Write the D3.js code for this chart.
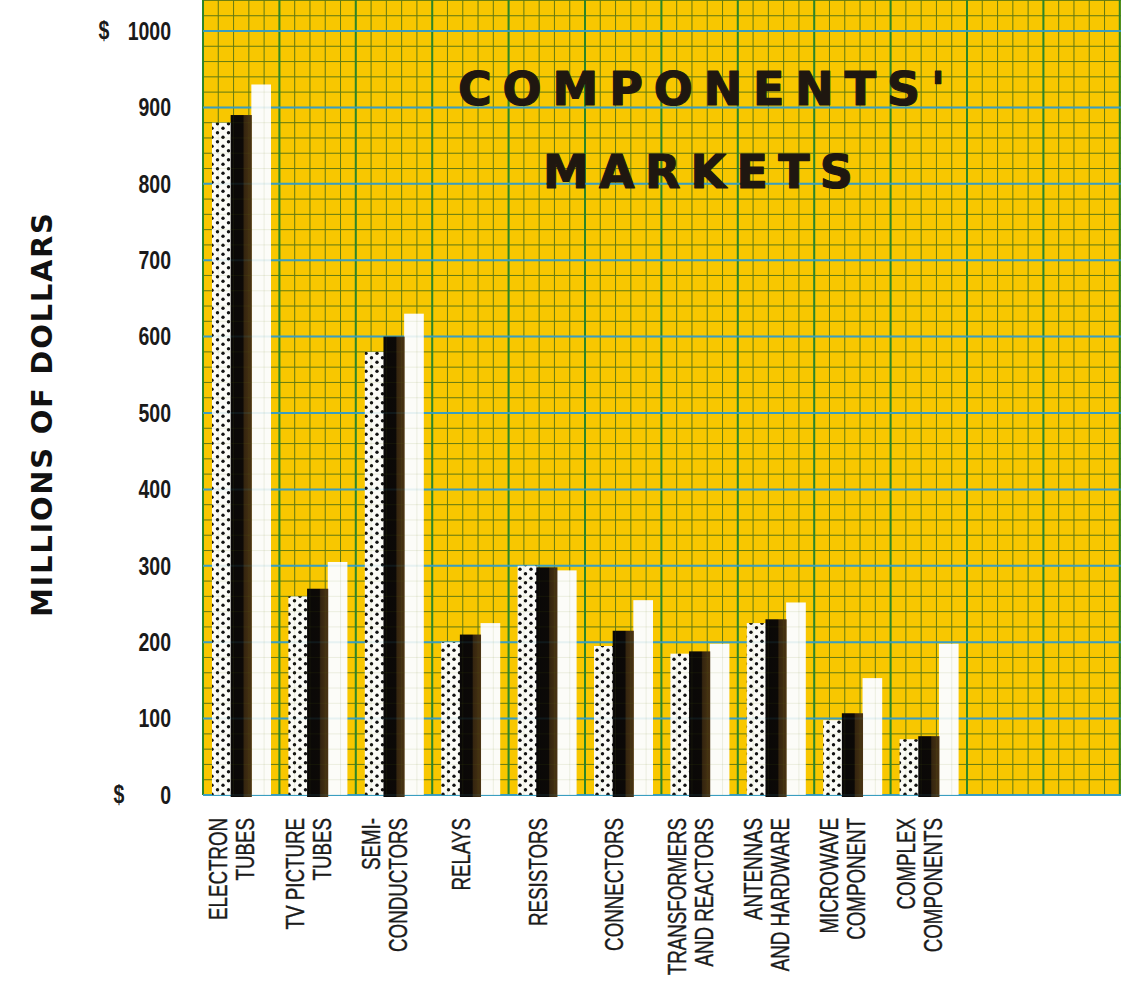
<!DOCTYPE html>
<html>
<head>
<meta charset="utf-8">
<script src="https://cdn.jsdelivr.net/npm/d3@7/dist/d3.min.js"></script>
<style>
  html, body { margin: 0; padding: 0; background: #ffffff; }
  svg { display: block; }
</style>
</head>
<body>
<script>
// ---- data ----
const categories = [
  ["ELECTRON", "TUBES"],
  ["TV PICTURE", "TUBES"],
  ["SEMI-", "CONDUCTORS"],
  ["RELAYS"],
  ["RESISTORS"],
  ["CONNECTORS"],
  ["TRANSFORMERS", "AND REACTORS"],
  ["ANTENNAS", "AND HARDWARE"],
  ["MICROWAVE", "COMPONENT"],
  ["COMPLEX", "COMPONENTS"]
];
const seriesNames = ["dotted", "black", "white"];
const dottedValues = [880, 260, 580, 200, 300, 195, 185, 225, 98, 73];
const blackValues  = [890, 270, 600, 210, 298, 215, 188, 230, 107, 77];
const whiteValues  = [930, 305, 630, 225, 294, 255, 198, 252, 153, 198];
const yTicks = [0, 100, 200, 300, 400, 500, 600, 700, 800, 900, 1000];
const dollarTicks = [0, 1000];
const titleLines = ["COMPONENTS'", "MARKETS"];
const yLabel = "MILLIONS OF DOLLARS";

// ---- layout ----
const W = 1121, H = 990;
const plotLeft = 203, plotRight = 1121, plotTop = 0;
const cellW = 76.4;
const narrowFont = "'Liberation Sans', Arial, sans-serif";

const svg = d3.select("body").append("svg").attr("width", W).attr("height", H);

const y = d3.scaleLinear().domain([0, 1000]).range([795, 31]);
const x = d3.scaleBand().domain(d3.range(categories.length))
  .range([plotLeft, plotLeft + cellW * categories.length]).padding(0);
const xs = d3.scaleBand().domain(seriesNames).range([9, 68]).padding(0);
const gx = d3.scaleLinear().domain([0, 1]).range([plotLeft, plotLeft + cellW]);

// defs
const defs = svg.append("defs");
const pat = defs.append("pattern").attr("id", "dots").attr("patternUnits", "userSpaceOnUse")
  .attr("width", 11).attr("height", 9);
pat.append("rect").attr("width", 11).attr("height", 9).attr("fill", "#fbfbf6");
pat.append("circle").attr("cx", 3).attr("cy", 2.2).attr("r", 1.7).attr("fill", "#111");
pat.append("circle").attr("cx", 8.5).attr("cy", 6.7).attr("r", 1.7).attr("fill", "#111");
const grad = defs.append("linearGradient").attr("id", "blk").attr("x1", 0).attr("x2", 1).attr("y1", 0).attr("y2", 0);
[[0, "#0a0807"], [0.58, "#0c0907"], [0.64, "#35250f"], [1, "#4a3414"]].forEach(s =>
  grad.append("stop").attr("offset", s[0]).attr("stop-color", s[1]));

// background
const yTopVal = y.invert(plotTop);
svg.append("rect").attr("x", plotLeft).attr("y", plotTop)
  .attr("width", plotRight - plotLeft).attr("height", y(0) - plotTop)
  .attr("fill", "#f8c700");

function drawGrid(g, op) {
  const hv = d3.range(0, yTopVal, 20);
  g.selectAll(".hmin").data(hv.filter(v => v % 100 !== 0)).join("line")
    .attr("x1", plotLeft).attr("x2", plotRight).attr("y1", d => y(d)).attr("y2", d => y(d))
    .attr("stroke", "#667c12").attr("stroke-width", 1).attr("opacity", op);
  const nCells = (plotRight - plotLeft) / cellW;
  const vv = d3.range(0, nCells + 0.01, 0.2);
  g.selectAll(".vmin").data(vv.filter((v, i) => i % 5 !== 0)).join("line")
    .attr("x1", d => gx(d)).attr("x2", d => gx(d)).attr("y1", plotTop).attr("y2", y(0))
    .attr("stroke", "#667c12").attr("stroke-width", 1).attr("opacity", op);
  g.selectAll(".vmaj").data(d3.range(0, Math.floor(nCells) + 1)).join("line")
    .attr("x1", d => gx(d)).attr("x2", d => gx(d)).attr("y1", plotTop).attr("y2", y(0))
    .attr("stroke", "#2c8628").attr("stroke-width", 2).attr("opacity", op);
  g.selectAll(".hmaj").data(d3.range(0, yTopVal, 100)).join("line")
    .attr("x1", plotLeft).attr("x2", plotRight).attr("y1", d => y(d)).attr("y2", d => y(d))
    .attr("stroke", "#3a9ec0").attr("stroke-width", 2).attr("opacity", op);
}
drawGrid(svg.append("g"), 1);

// bars
const seriesData = { dotted: dottedValues, black: blackValues, white: whiteValues };
const fills = { dotted: "url(#dots)", black: "url(#blk)", white: "#fcfcf8" };
const barG = svg.append("g");
["white", "dotted", "black"].forEach(s => {
  barG.selectAll(".b-" + s).data(seriesData[s]).join("rect")
    .attr("x", (d, i) => x(i) + xs(s) - (s === "black" ? 1 : 0))
    .attr("width", xs.bandwidth() + (s === "black" ? 1.5 : 0))
    .attr("y", d => y(d))
    .attr("height", d => y(0) - y(d) + (s === "black" ? 2 : 0))
    .attr("fill", fills[s]);
});
drawGrid(svg.append("g"), 0.1);

// title
const title = svg.append("g").attr("font-family", "'DejaVu Sans', Verdana, sans-serif")
  .attr("font-weight", "bold").attr("fill", "#1f1710")
  .attr("stroke", "#1f1710").attr("stroke-width", 1.2).attr("stroke-linejoin", "round");
title.append("text").attr("x", 458).attr("y", 105).attr("font-size", 46)
  .attr("textLength", 487).attr("lengthAdjust", "spacing").text(titleLines[0]);
title.append("text").attr("x", 543).attr("y", 188).attr("font-size", 46)
  .attr("textLength", 310).attr("lengthAdjust", "spacing").text(titleLines[1]);

// y axis tick labels (condensed by horizontal scaling)
const yAxis = d3.axisLeft(y).tickValues(yTicks).tickSize(0).tickPadding(0).tickFormat(d3.format("d"));
const yg = svg.append("g").attr("transform", "translate(171,0)").call(yAxis);
yg.select(".domain").remove();
yg.selectAll(".tick text")
  .attr("x", 0).attr("dy", null)
  .attr("transform", "scale(0.78,1)")
  .attr("dominant-baseline", "central")
  .style("font-family", narrowFont).style("font-size", "25px").style("font-weight", "bold")
  .attr("fill", "#1a1a1a");
svg.selectAll(".dollar").data(dollarTicks).join("text")
  .attr("transform", d => `translate(${d === 0 ? 119 : 104},${y(d)}) scale(0.78,1)`)
  .attr("dominant-baseline", "central")
  .attr("text-anchor", "middle").style("font-family", narrowFont).style("font-size", "25px")
  .style("font-weight", "bold").attr("fill", "#1a1a1a").text("$");

// y axis title
svg.append("text").attr("transform", "translate(52,415) rotate(-90)")
  .attr("text-anchor", "middle").attr("font-family", "'DejaVu Sans', Verdana, sans-serif")
  .attr("font-weight", "bold").attr("font-size", 29).attr("fill", "#111")
  .attr("textLength", 404).attr("lengthAdjust", "spacing").text(yLabel);

// category labels
const catG = svg.append("g");
categories.forEach((lines, i) => {
  const cx = x(i) + x.bandwidth() / 2;
  const offs = lines.length === 1 ? [-8] : [-22, 5];
  lines.forEach((t, j) => {
    catG.append("text")
      .attr("transform", `translate(${cx + offs[j] + 8},818) rotate(-90) scale(0.75,1)`)
      .attr("text-anchor", "end").style("font-family", narrowFont).style("font-size", "25px")
      .attr("fill", "#1a1a1a").attr("stroke", "#1a1a1a").attr("stroke-width", 0.4).text(t);
  });
});
</script>
</body>
</html>
